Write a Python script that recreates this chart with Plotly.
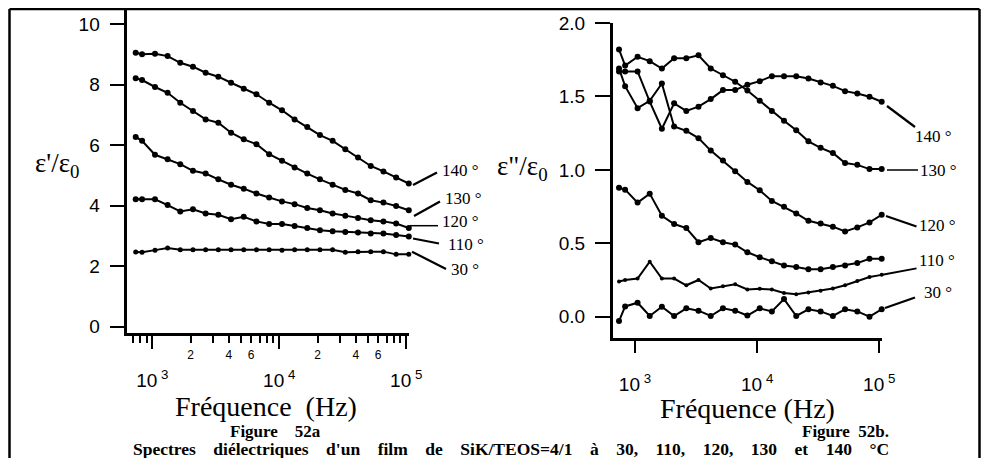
import plotly.graph_objects as go

# ---------------- data ----------------
freq = [740, 830, 1050, 1320, 1660, 2090, 2630, 3310, 4170, 5250, 6610, 8320,
        10500, 13200, 16600, 20900, 26300, 33100, 41700, 52500, 66100, 83200, 104700]

# Figure 52a : eps'/eps0
eps1_140 = [9.05, 9.00, 9.02, 8.94, 8.72, 8.59, 8.39, 8.26, 8.06, 7.86, 7.68, 7.40,
            7.15, 6.85, 6.60, 6.33, 6.14, 5.86, 5.59, 5.31, 5.13, 4.93, 4.73]
eps1_130 = [8.21, 8.15, 7.92, 7.73, 7.40, 7.13, 6.85, 6.74, 6.41, 6.19, 6.03, 5.70,
            5.48, 5.26, 5.06, 4.87, 4.69, 4.52, 4.40, 4.18, 4.10, 3.99, 3.85]
eps1_120 = [6.27, 6.14, 5.68, 5.53, 5.37, 5.15, 5.06, 4.87, 4.69, 4.56, 4.40, 4.27,
            4.14, 4.05, 3.92, 3.85, 3.74, 3.67, 3.59, 3.52, 3.48, 3.41, 3.26]
eps1_110 = [4.21, 4.21, 4.21, 4.02, 3.81, 3.88, 3.74, 3.70, 3.55, 3.63, 3.48, 3.39,
            3.39, 3.33, 3.26, 3.19, 3.15, 3.13, 3.11, 3.08, 3.08, 3.03, 2.98]
eps1_30 = [2.47, 2.46, 2.53, 2.60, 2.54, 2.54, 2.54, 2.54, 2.54, 2.54, 2.54, 2.54,
           2.53, 2.54, 2.54, 2.54, 2.54, 2.46, 2.48, 2.48, 2.48, 2.39, 2.39]

# Figure 52b : eps''/eps0
eps2_140 = [1.67, 1.67, 1.67, 1.465, 1.28, 1.453, 1.401, 1.43, 1.482, 1.543, 1.543, 1.58,
            1.604, 1.638, 1.638, 1.638, 1.622, 1.595, 1.572, 1.536, 1.52, 1.498, 1.464]
eps2_130 = [1.82, 1.71, 1.77, 1.74, 1.69, 1.76, 1.76, 1.78, 1.69, 1.645, 1.60, 1.54,
            1.47, 1.40, 1.334, 1.27, 1.194, 1.15, 1.115, 1.047, 1.034, 1.005, 1.005]
eps2_120 = [1.69, 1.57, 1.42, 1.47, 1.588, 1.295, 1.266, 1.216, 1.131, 1.063, 0.991, 0.918,
            0.861, 0.788, 0.748, 0.703, 0.653, 0.635, 0.613, 0.581, 0.608, 0.642, 0.694]
eps2_x = [0.878, 0.865, 0.777, 0.838, 0.687, 0.631, 0.604, 0.507, 0.536, 0.507, 0.491, 0.439,
          0.405, 0.378, 0.349, 0.338, 0.324, 0.324, 0.338, 0.349, 0.365, 0.395, 0.395]
eps2_110 = [0.24, 0.25, 0.26, 0.375, 0.26, 0.26, 0.214, 0.25, 0.192, 0.207, 0.221, 0.185,
            0.19, 0.185, 0.162, 0.153, 0.165, 0.176, 0.192, 0.214, 0.243, 0.27, 0.285]
eps2_30 = [-0.03, 0.07, 0.095, 0.005, 0.068, 0.005, 0.057, 0.041, 0.005, 0.057, 0.041, 0.008,
           0.057, 0.036, 0.12, 0.005, 0.05, 0.036, 0.005, 0.05, 0.036, 0.0, 0.05]

left_y_ticks = [0, 2, 4, 6, 8, 10]
right_y_ticks = [0, 0.5, 1.0, 1.5, 2.0]
right_y_text = ["0.0", "0.5", "1.0", "1.5", "2.0"]
major_x = [1000, 10000, 100000]
major_x_text = ["10\u2009<sup>3</sup>", "10\u2009<sup>4</sup>", "10\u2009<sup>5</sup>"]
minor_lab_x = [2000, 4000, 6000, 20000, 40000, 60000]
minor_lab_text = ["2", "4", "6", "2", "4", "6"]
minor_x = [700, 800, 900, 3000, 5000, 7000, 8000, 9000,
           30000, 50000, 70000, 80000, 90000]

# page: 989x466 window, default 8px body margin -> figure 973x450 fits exactly
OFF = 8
W, H = 989 - 2 * OFF, 466 - 2 * OFF
def PX(x): return (x - OFF) / W          # window pixel -> paper fraction
def PY(y): return 1 - (y - OFF) / H

SANS = "Liberation Sans, Arial, sans-serif"
SERIF = "Liberation Serif, Times New Roman, serif"

fig = go.Figure()

def add(y, xa, ya, msize=6):
    fig.add_trace(go.Scatter(x=freq, y=y, xaxis=xa, yaxis=ya, mode="lines+markers",
                             line=dict(color="black", width=2),
                             marker=dict(color="black", size=msize),
                             cliponaxis=False, hoverinfo="skip"))

for s in [eps1_140, eps1_130, eps1_120, eps1_110]:
    add(s, "x", "y")
add(eps1_30, "x", "y", 5)
for s in [eps2_140, eps2_130, eps2_120, eps2_x]:
    add(s, "x2", "y2")
add(eps2_110, "x2", "y2", 4)
add(eps2_30, "x2", "y2")

# empty helper traces so that the overlaid tick axes are instantiated
for xa, ya in [("x3", "y"), ("x4", "y2")]:
    fig.add_trace(go.Scatter(x=major_x, y=[None] * len(major_x), xaxis=xa, yaxis=ya,
                             mode="markers", marker=dict(opacity=0), hoverinfo="skip"))

axis_common = dict(showgrid=False, zeroline=False, color="black", automargin=False)

fig.update_layout(
    width=W, height=H, margin=dict(l=0, r=0, t=0, b=0, autoexpand=False),
    paper_bgcolor="white", plot_bgcolor="rgba(0,0,0,0)", showlegend=False,
    xaxis=dict(domain=[PX(127.3), PX(408.8)], type="log", range=[2.803, 5.02], anchor="y",
               showline=True, linecolor="black", linewidth=2.5,
               ticks="outside", ticklen=7, tickwidth=2, tickcolor="black",
               tickvals=minor_lab_x, ticktext=minor_lab_text,
               tickfont=dict(family=SANS, size=12, color="black"), ticklabelstandoff=2,
               minor=dict(tickvals=minor_x, ticks="outside", ticklen=7, tickwidth=2,
                          tickcolor="black", showgrid=False),
               **axis_common),
    xaxis3=dict(overlaying="x", anchor="y", type="log", range=[2.803, 5.02],
                showline=False, ticks="outside", ticklen=15, tickwidth=2, tickcolor="black",
                tickvals=major_x, ticktext=major_x_text,
                tickfont=dict(family=SANS, size=19, color="black"), ticklabelstandoff=15,
                **axis_common),
    yaxis=dict(domain=[PY(333), PY(8)], range=[-0.208, 10.53], anchor="x",
               showline=True, linecolor="black", linewidth=2.5,
               ticks="outside", ticklen=15, tickwidth=2, tickcolor="black",
               tickvals=left_y_ticks,
               tickfont=dict(family=SANS, size=19, color="black"), ticklabelstandoff=6,
               **axis_common),
    xaxis2=dict(domain=[PX(612.7), PX(881.7)], type="log", range=[2.8174, 5.02], anchor="y2",
                showline=True, linecolor="black", linewidth=2.5, ticks="",
                showticklabels=False, **axis_common),
    xaxis4=dict(overlaying="x2", anchor="free", position=PY(340), type="log",
                range=[2.8174, 5.02], showline=False,
                ticks="outside", ticklen=12, tickwidth=2, tickcolor="black",
                tickvals=major_x, ticktext=major_x_text,
                tickfont=dict(family=SANS, size=19, color="black"), ticklabelstandoff=15,
                **axis_common),
    yaxis2=dict(domain=[PY(338.3), PY(22.7)], range=[-0.147, 2.002], anchor="x2",
                showline=True, linecolor="black", linewidth=2.5,
                ticks="outside", ticklen=15, tickwidth=2, tickcolor="black",
                tickvals=right_y_ticks, ticktext=right_y_text,
                tickfont=dict(family=SANS, size=19, color="black"), ticklabelstandoff=6,
                **axis_common),
)

ann = []
def text(x, y, t, size, family=SERIF, xanchor="center", bold=False):
    if bold:
        t = "<b>" + t + "</b>"
    ann.append(dict(x=PX(x), y=PY(y), xref="paper", yref="paper", text=t, showarrow=False,
                    xanchor=xanchor, yanchor="middle",
                    font=dict(family=family, size=size, color="black")))

# axis titles
text(57, 165, "ε'/ε<sub>0</sub>", 27)
text(522, 168, "ε\"/ε<sub>0</sub>", 27)
text(266, 406, "Fréquence\u00a0\u00a0(Hz)", 28)
text(747, 408, "Fréquence (Hz)", 28)

# curve labels
for x, y, t in [(440, 170, "140 °"), (443, 198, "130 °"), (440, 222, "120 °"),
                (446, 245, "110 °"), (449, 269, "30 °"),
                (913, 137, "140 °"), (918, 170, "130 °"), (917, 225, "120 °"),
                (917, 260, "110 °"), (922, 292, "30 °")]:
    text(x, y, t, 17, xanchor="left")

# captions
text(275, 431, "Figure" + "\u00a0" * 4 + "52a", 17, bold=True)
text(845, 431, "Figure" + "\u00a0" * 2 + "52b.", 17, bold=True)
cap_words = ["Spectres", "diélectriques", "d'un", "film", "de", "SiK/TEOS=4/1", "à",
             "30,", "110,", "120,", "130", "et", "140", "°C"]
text(511, 449, (" " + "\u00a0" * 3).join(cap_words), 17.5, bold=True)

fig.update_layout(annotations=ann)

# leader lines and frame
shapes = []
def seg(x0, y0, x1, y1, w=2.2):
    shapes.append(dict(type="line", xref="paper", yref="paper",
                       x0=PX(x0), y0=PY(y0), x1=PX(x1), y1=PY(y1),
                       line=dict(color="black", width=w)))

seg(413, 185, 437, 172.5)
seg(414, 216, 440, 201.5)
seg(410, 225.7, 438, 225.7, 1.5)
seg(413, 238.5, 439, 243.5)
seg(412, 251.7, 446, 269)
seg(887, 106, 915, 127)
seg(887, 170, 918, 170, 1.5)
seg(886, 216, 916.5, 226.5)
seg(881, 275, 916.5, 268.3, 1.8)
seg(885, 308, 915, 297.5)

# outer frame (left, top, right)
seg(9.5, 9, 9.5, 458, 2.5)
seg(9.5, 9, 979.5, 9, 2.5)
seg(979.5, 9, 979.5, 458, 2.5)
fig.update_layout(shapes=shapes)

fig.write_html("out.html", config={"displayModeBar": False})
